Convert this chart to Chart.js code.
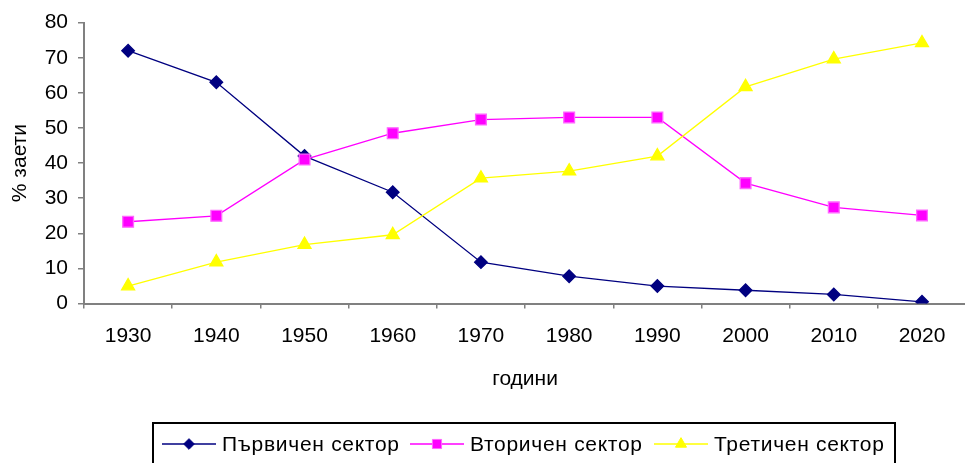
<!DOCTYPE html>
<html>
<head>
<meta charset="utf-8">
<script src="https://cdn.jsdelivr.net/npm/chart.js@4/dist/chart.umd.min.js"></script>
<style>
  html, body { margin: 0; padding: 0; background: #fff; overflow: hidden; }
  #wrap { width: 975px; height: 463px; }
</style>
</head>
<body>
<div id="wrap"><canvas id="c" width="975" height="463"></canvas></div>
<script>
const years = ['1930','1940','1950','1960','1970','1980','1990','2000','2010','2020'];
const primary = [72, 63, 42, 31.7, 11.8, 7.8, 5, 3.8, 2.6, 0.5];
const secondary = [23.3, 25, 41, 48.5, 52.4, 53, 53, 34.3, 27.4, 25.1];
const tertiary = [5, 11.8, 16.8, 19.6, 35.7, 37.7, 42, 61.7, 69.6, 74.2];
const seriesNames = ['Първичен сектор', 'Вторичен сектор', 'Третичен сектор'];
const yTitle = '% заети';
const xTitle = 'години';

const FONT = '"Liberation Sans", Arial, sans-serif';

const boxLegend = {
  id: 'boxLegend',
  afterDraw(chart) {
    const ctx = chart.ctx;
    ctx.save();
    ctx.strokeStyle = '#000';
    ctx.lineWidth = 2;
    ctx.strokeRect(153, 423, 742, 60);
    const itemX = [162, 410, 654];
    const y = 444;
    ctx.font = '21px ' + FONT;
    if ('letterSpacing' in ctx) ctx.letterSpacing = '0.7px';
    ctx.textBaseline = 'middle';
    ctx.fillStyle = '#000';
    chart.data.datasets.forEach((ds, i) => {
      const x0 = itemX[i];
      ctx.strokeStyle = ds.borderColor;
      ctx.lineWidth = 1.3;
      ctx.beginPath();
      ctx.moveTo(x0, y);
      ctx.lineTo(x0 + 54, y);
      ctx.stroke();
      ctx.fillStyle = ds.pointBackgroundColor;
      ctx.strokeStyle = ds.pointBorderColor;
      ctx.lineWidth = 1;
      Chart.helpers.drawPoint(ctx, {pointStyle: ds.pointStyle, radius: ds.pointRadius * 0.85, rotation: 0, borderWidth: 1}, x0 + 27, y);
      ctx.fillStyle = '#000';
      ctx.fillText(ds.label, x0 + 60, y + 1);
    });
    ctx.restore();
  }
};

new Chart(document.getElementById('c'), {
  type: 'line',
  data: {
    labels: years,
    datasets: [
      {
        label: seriesNames[0], data: primary, order: 3,
        borderColor: '#000080', backgroundColor: '#000080',
        pointBackgroundColor: '#000080', pointBorderColor: '#000080',
        pointStyle: 'rectRot', pointRadius: 6.3, borderWidth: 1.3, tension: 0
      },
      {
        label: seriesNames[1], data: secondary, order: 2,
        borderColor: '#FF00FF', backgroundColor: '#FF00FF',
        pointBackgroundColor: '#FF00FF', pointBorderColor: '#FF66FF',
        pointStyle: 'rect', pointRadius: 7.6, borderWidth: 1.3, tension: 0
      },
      {
        label: seriesNames[2], data: tertiary, order: 1,
        borderColor: '#FFFF00', backgroundColor: '#FFFF00',
        pointBackgroundColor: '#FFFF00', pointBorderColor: '#FFFF00',
        pointStyle: 'triangle', pointRadius: 7.5, borderWidth: 1.3, tension: 0
      }
    ]
  },
  options: {
    responsive: false,
    animation: false,
    events: [],
    layout: { padding: { top: 22, right: 3, bottom: 71, left: 0 } },
    plugins: { legend: { display: false }, tooltip: { enabled: false } },
    elements: { point: { borderWidth: 1 } },
    scales: {
      x: {
        offset: true,
        grid: { display: true, drawOnChartArea: false, drawTicks: true, tickLength: 5, color: '#808080', lineWidth: 1.5, offset: true },
        border: { color: '#808080', width: 2 },
        ticks: { color: '#000', font: { family: FONT, size: 21 }, padding: 15, maxRotation: 0, autoSkip: false },
        title: { display: true, text: xTitle, color: '#000', font: { family: FONT, size: 21 }, padding: { top: 3, bottom: 0 } }
      },
      y: {
        min: 0, max: 80,
        grid: { display: true, drawOnChartArea: false, drawTicks: true, tickLength: 6, color: '#808080', lineWidth: 1.5 },
        border: { color: '#808080', width: 2 },
        ticks: { stepSize: 10, color: '#000', font: { family: FONT, size: 21 }, padding: 10 },
        title: { display: true, text: yTitle, color: '#000', font: { family: FONT, size: 21 }, padding: { top: 8, bottom: 0 } },
        afterFit(scale) { scale.width = 84; }
      }
    }
  },
  plugins: [boxLegend]
});
</script>
</body>
</html>
